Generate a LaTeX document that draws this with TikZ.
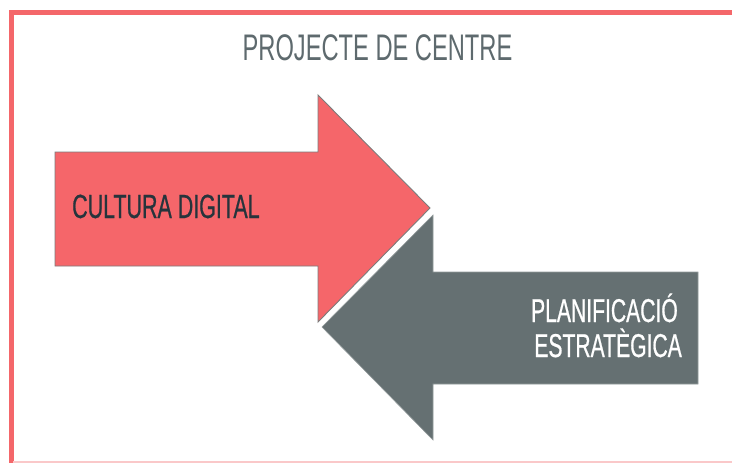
\documentclass[tikz,border=0pt]{standalone}
\usepackage{fontspec}
\newfontfamily\condfont[FakeStretch=0.64,FakeBold=0.6]{Liberation Sans}
\newfontfamily\titlefont[FakeStretch=0.64]{Liberation Sans}
\definecolor{framered}{HTML}{F4676A}
\definecolor{arrowred}{HTML}{F5666A}
\definecolor{arrowgray}{HTML}{657072}
\definecolor{titlegray}{HTML}{5E6A6E}
\definecolor{darktext}{HTML}{26343C}
\definecolor{edgegray}{HTML}{7C7C7C}
\definecolor{palepink}{HTML}{FAC8C9}
\tikzset{
  bigarrow/.style={draw=edgegray, line width=0.9pt, line join=miter},
  lbl/.style={inner sep=0pt, font=\condfont}
}
\begin{document}
\begin{tikzpicture}[x=1pt,y=-1pt]
\useasboundingbox (0,0) rectangle (732,463);
\fill[white] (0,0) rectangle (732,463);
% frame
\begin{scope}
\clip (0,0) rectangle (732,463);
\draw[framered, line width=5pt] (742,12) -- (11,12) -- (11,470);
\draw[palepink, line width=2pt] (13,462) -- (732,462);
\end{scope}
% arrows
\fill[arrowred] (55,152) -- (318,152) -- (318,95) -- (430,208) -- (318,322) -- (318,266) -- (55,266) -- cycle;
\draw[bigarrow] (55,152) -- (318,152) -- (318,95) -- (430,208) -- (318,322) -- (318,266) -- (55,266) -- cycle;
\fill[arrowgray] (698,272) -- (433,272) -- (433,215) -- (322,327) -- (433,440) -- (433,384) -- (698,384) -- cycle;
\draw[bigarrow, draw=arrowgray!70!white, line width=0.6pt] (698,272) -- (433,272) -- (433,215) -- (322,327) -- (433,440) -- (433,384) -- (698,384) -- cycle;
% texts
\node[lbl, anchor=base, text=titlegray, font=\titlefont\fontsize{37}{40}\selectfont] (title) at (377.5,60) {PROJECTE DE CENTRE};
\node[lbl, anchor=base west, text=darktext, font=\condfont\fontsize{33.5}{35}\selectfont] (cultura) at (72,218) {CULTURA DIGITAL};
\node[lbl, anchor=base east, text=white, font=\condfont\fontsize{33}{35}\selectfont] (planif) at (678,322) {PLANIFICACIÓ};
\node[lbl, anchor=base east, text=white, font=\condfont\fontsize{33}{35}\selectfont] (estrat) at (682,357) {ESTRATÈGICA};
\end{tikzpicture}
\end{document}
